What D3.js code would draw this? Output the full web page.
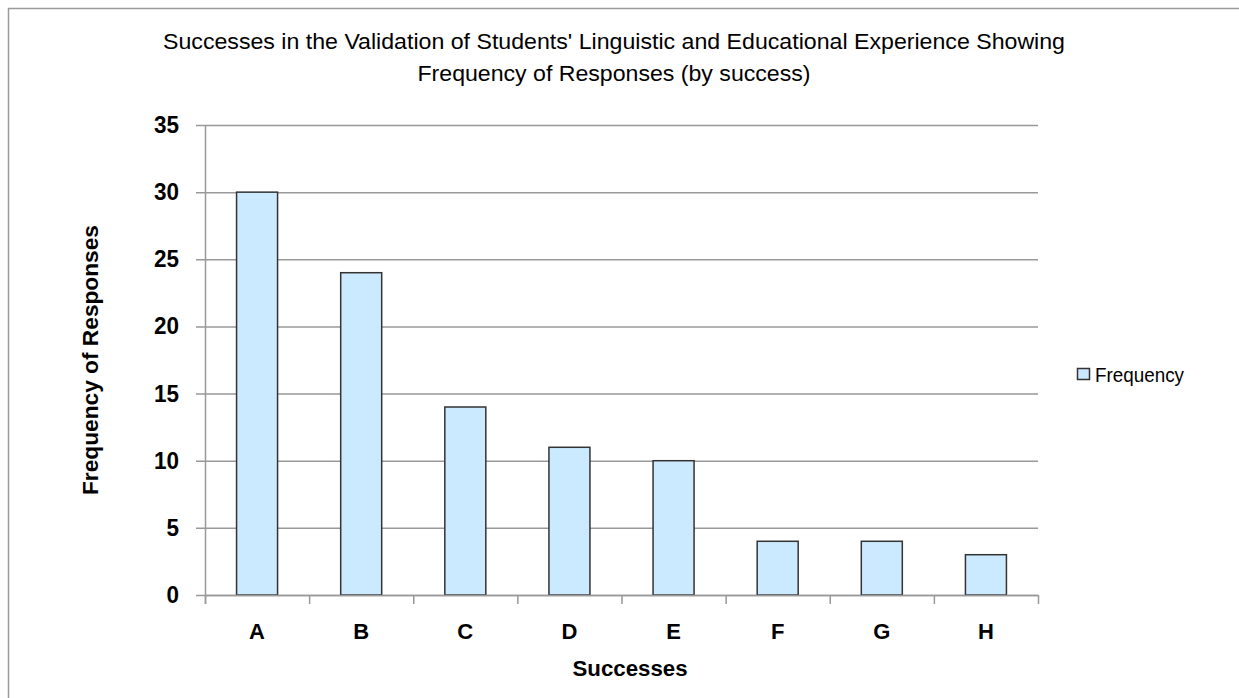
<!DOCTYPE html>
<html>
<head>
<meta charset="utf-8">
<script src="https://cdn.jsdelivr.net/npm/d3@7"></script>
<style>
  body { margin: 0; background: #fff; }
  text { font-family: "Liberation Sans Narrow", "Liberation Sans", Arial, sans-serif; }
</style>
</head>
<body>
<div id="chart"></div>
<script>
// data
const categories = ["A", "B", "C", "D", "E", "F", "G", "H"];
const frequency = [30, 24, 14, 11, 10, 4, 4, 3];
const yTicks = [0, 5, 10, 15, 20, 25, 30, 35];

const width = 1239, height = 698;
const plot = { left: 205, right: 1038, top: 125, bottom: 595 };

const svg = d3.select("#chart").append("svg")
    .attr("width", width)
    .attr("height", height);

// outer chart frame
svg.append("rect")
    .attr("x", 8.5).attr("y", 8.5)
    .attr("width", width + 10).attr("height", height + 10)
    .attr("fill", "#fff")
    .attr("stroke", "#9a9a9a")
    .attr("stroke-width", 1.5);

const band = d3.scaleBand().domain(categories).range([plot.left, plot.right]);
const y = d3.scaleLinear().domain([0, 35]).range([plot.bottom, plot.top]);

// gridlines
svg.append("g")
    .selectAll("line")
    .data(yTicks)
    .enter().append("line")
    .attr("x1", plot.left - 9).attr("x2", plot.right)
    .attr("y1", d => y(d) + 0.5).attr("y2", d => y(d) + 0.5)
    .attr("stroke", "#999")
    .attr("stroke-width", 1.5);

// y axis line
svg.append("line")
    .attr("x1", plot.left + 0.5).attr("x2", plot.left + 0.5)
    .attr("y1", plot.top).attr("y2", plot.bottom + 9)
    .attr("stroke", "#999").attr("stroke-width", 1.5);

// y tick labels (narrow look via textLength)
svg.append("g")
    .selectAll("text")
    .data(yTicks)
    .enter().append("text")
    .attr("x", 179)
    .attr("y", d => y(d) + 8)
    .attr("text-anchor", "end")
    .attr("font-size", 24)
    .attr("font-weight", "bold")
    .attr("textLength", d => String(d).length * 12.5)
    .attr("lengthAdjust", "spacingAndGlyphs")
    .attr("fill", "#000")
    .text(d => d);

// bars
svg.append("g")
    .selectAll("rect")
    .data(frequency)
    .enter().append("rect")
    .attr("x", (d, i) => band(categories[i]) + band.bandwidth() / 2 - 20.5)
    .attr("y", d => y(d))
    .attr("width", 41)
    .attr("height", d => plot.bottom - y(d))
    .attr("fill", "#cceaff")
    .attr("stroke", "#333")
    .attr("stroke-width", 1.5);

// x axis line and ticks
svg.append("line")
    .attr("x1", plot.left).attr("x2", plot.right)
    .attr("y1", plot.bottom + 0.5).attr("y2", plot.bottom + 0.5)
    .attr("stroke", "#999").attr("stroke-width", 1.5);

const bounds = categories.map(c => band(c)).concat([plot.right]);
svg.append("g")
    .selectAll("line")
    .data(bounds)
    .enter().append("line")
    .attr("x1", d => d + 0.5).attr("x2", d => d + 0.5)
    .attr("y1", plot.bottom).attr("y2", plot.bottom + 9)
    .attr("stroke", "#999").attr("stroke-width", 1.5);

// category labels
svg.append("g")
    .selectAll("text")
    .data(categories)
    .enter().append("text")
    .attr("x", d => band(d) + band.bandwidth() / 2)
    .attr("y", 639)
    .attr("text-anchor", "middle")
    .attr("font-size", 22)
    .attr("font-weight", "bold")
    .attr("fill", "#000")
    .text(d => d);

// axis titles
svg.append("text")
    .attr("x", 630).attr("y", 676)
    .attr("text-anchor", "middle")
    .attr("font-size", 22)
    .attr("font-weight", "bold")
    .attr("textLength", 115)
    .attr("lengthAdjust", "spacingAndGlyphs")
    .text("Successes");

svg.append("text")
    .attr("transform", "translate(98,360) rotate(-90)")
    .attr("text-anchor", "middle")
    .attr("font-size", 22)
    .attr("font-weight", "bold")
    .attr("textLength", 270)
    .attr("lengthAdjust", "spacingAndGlyphs")
    .text("Frequency of Responses");

// chart title
const title = svg.append("text")
    .attr("text-anchor", "middle")
    .attr("font-size", 22)
    .attr("fill", "#000");
title.append("tspan").attr("x", 614).attr("y", 49)
    .attr("textLength", 902)
    .attr("lengthAdjust", "spacingAndGlyphs")
    .text("Successes in the Validation of Students' Linguistic and Educational Experience Showing");
title.append("tspan").attr("x", 614).attr("y", 81)
    .attr("textLength", 393)
    .attr("lengthAdjust", "spacingAndGlyphs")
    .text("Frequency of Responses (by success)");

// legend
svg.append("rect")
    .attr("x", 1077.5).attr("y", 368.5)
    .attr("width", 12).attr("height", 11)
    .attr("fill", "#cceaff")
    .attr("stroke", "#333").attr("stroke-width", 1.5);
svg.append("text")
    .attr("x", 1095).attr("y", 382)
    .attr("font-size", 20)
    .attr("textLength", 89)
    .attr("lengthAdjust", "spacingAndGlyphs")
    .text("Frequency");
</script>
</body>
</html>
